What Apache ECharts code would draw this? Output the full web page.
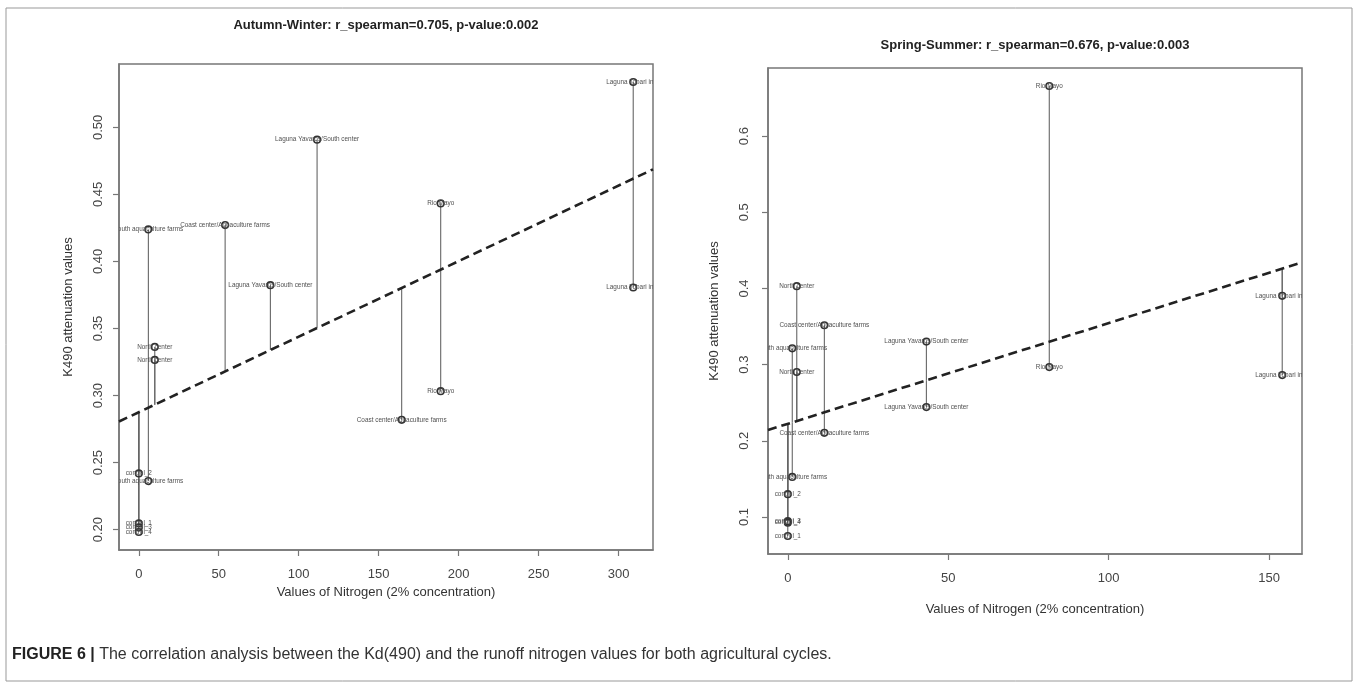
<!DOCTYPE html>
<html><head><meta charset="utf-8">
<script src="https://cdn.jsdelivr.net/npm/echarts@6/dist/echarts.min.js"></script>
<style>html,body{margin:0;padding:0;background:#fff}#c{width:1358px;height:687px}</style>
</head><body><div id="c"></div>
<script>
// ---------- Autumn-Winter ----------
const awNames = ['control_2','control_1','control_3','control_4',
  'South aquaculture farms','South aquaculture farms','North center','North center',
  'Coast center/Aquaculture farms','Coast center/Aquaculture farms',
  'Laguna Yavaros/South center','Laguna Yavaros/South center',
  'Rio Mayo','Rio Mayo','Laguna Tobari inlet','Laguna Tobari inlet'];
const awNitrogen = [0,0,0,0, 6,6, 10,10, 54,164.4, 82.3,111.5, 188.8,188.8, 309.2,309.2];
const awK490 = [0.242,0.2047,0.2017,0.1983, 0.4239,0.2363, 0.3363,0.3266, 0.4271,0.2819, 0.3823,0.4908, 0.4433,0.3033, 0.5338,0.3806];
const awXTicks = [0,50,100,150,200,250,300];
const awYTicks = [0.20,0.25,0.30,0.35,0.40,0.45,0.50];
const awTitle = 'Autumn-Winter: r_spearman=0.705, p-value:0.002';

// ---------- Spring-Summer ----------
const ssNames = ['North center','North center',
  'Coast center/Aquaculture farms','Coast center/Aquaculture farms',
  'South aquaculture farms','South aquaculture farms',
  'Laguna Yavaros/South center','Laguna Yavaros/South center',
  'control_2','control_3','control_4','control_1',
  'Rio Mayo','Rio Mayo','Laguna Tobari inlet','Laguna Tobari inlet'];
const ssNitrogen = [2.8,2.8, 11.4,11.4, 1.4,1.4, 43.2,43.2, 0,0,0,0, 81.5,81.5, 154.1,154.1];
const ssK490 = [0.403,0.2903, 0.3517,0.2105, 0.3214,0.1526, 0.3303,0.2442, 0.1299,0.0945,0.0925,0.075, 0.6658,0.2968, 0.3903,0.2863];
const ssXTicks = [0,50,100,150];
const ssYTicks = [0.1,0.2,0.3,0.4,0.5,0.6];
const ssTitle = 'Spring-Summer: r_spearman=0.676, p-value:0.003';

const xName = 'Values of Nitrogen (2% concentration)';
const yName = 'K490 attenuation values';
const captionBold = 'FIGURE 6 |';
const captionText = ' The correlation analysis between the Kd(490) and the runoff nitrogen values for both agricultural cycles.';

const FF = '"Liberation Sans", Arial, sans-serif';

function ols(xs, ys){
  const n = xs.length;
  const mx = xs.reduce((a,b)=>a+b,0)/n, my = ys.reduce((a,b)=>a+b,0)/n;
  let sxy=0, sxx=0;
  for(let i=0;i<n;i++){ sxy += (xs[i]-mx)*(ys[i]-my); sxx += (xs[i]-mx)*(xs[i]-mx); }
  const b = sxy/sxx; return {a: my - b*mx, b};
}
function rExtent(vals){
  const mn = Math.min(...vals), mx = Math.max(...vals), r = mx-mn;
  return [mn-0.04*r, mx+0.04*r];
}

function pointRender(names){
  return function(params, api){
    const p = api.coord([api.value(0), api.value(1)]);
    const cs = params.coordSys;
    return {type:'group',
      clipPath:{type:'rect', shape:{x:cs.x, y:cs.y, width:cs.width, height:cs.height}},
      children:[
        {type:'circle', shape:{cx:p[0], cy:p[1], r:3.3}, style:{fill:'none', stroke:'#333', lineWidth:1.6}},
        {type:'text', x:p[0], y:p[1], style:{text:names[params.dataIndex], fontSize:6.4, fontFamily:FF, fill:'#505050', align:'center', verticalAlign:'middle'}}
      ]};
  };
}
function residRender(params, api){
  const p1 = api.coord([api.value(0), api.value(1)]);
  const p2 = api.coord([api.value(0), api.value(2)]);
  return {type:'line', shape:{x1:p1[0], y1:p1[1], x2:p2[0], y2:p2[1]}, style:{stroke:'#666', lineWidth:1.1}};
}

function panel(idx, xs, ys, names, xTicks, yTicks, yDec, o){
  const fit = ols(xs, ys);
  const xe = rExtent(xs), ye = rExtent(ys);
  const resid = xs.map((x,i)=>[x, ys[i], fit.a + fit.b*x]);
  const pts = xs.map((x,i)=>[x, ys[i]]);
  const reg = [[xe[0], fit.a+fit.b*xe[0]], [xe[1], fit.a+fit.b*xe[1]]];
  const axisLineStyle = {color:'#777', width:1.5};
  return {
    grid: {left:o.left, top:o.top, width:534, height:486, show:true, borderColor:'#777', borderWidth:1.5, backgroundColor:'transparent'},
    xAxis: {type:'value', gridIndex:idx, min:xe[0], max:xe[1],
      name:xName, nameLocation:'middle', nameGap:o.xNameGap,
      nameTextStyle:{fontSize:13, color:'#333', fontFamily:FF},
      axisLine:{show:true, onZero:false, lineStyle:axisLineStyle},
      axisTick:{show:true, customValues:xTicks, length:6, lineStyle:{color:'#777', width:1.2}},
      axisLabel:{customValues:xTicks, margin:o.xMargin, fontSize:13, color:'#444', fontFamily:FF},
      splitLine:{show:false}},
    yAxis: {type:'value', gridIndex:idx, min:ye[0], max:ye[1],
      name:yName, nameLocation:'middle', nameGap:o.yNameGap, nameRotate:90,
      nameTextStyle:{fontSize:13, color:'#333', fontFamily:FF},
      axisLine:{show:true, onZero:false, lineStyle:axisLineStyle},
      axisTick:{show:true, customValues:yTicks, length:6, lineStyle:{color:'#777', width:1.2}},
      axisLabel:{customValues:yTicks, rotate:90, margin:o.yMargin, fontSize:13, color:'#444', fontFamily:FF,
        formatter: v => Number(v).toFixed(yDec)},
      splitLine:{show:false}},
    series: [
      {type:'custom', xAxisIndex:idx, yAxisIndex:idx, data:resid, encode:{x:0, y:[1,2]}, renderItem:residRender, silent:true, z:2},
      {type:'line', xAxisIndex:idx, yAxisIndex:idx, data:reg, showSymbol:false, symbol:'none', clip:true, silent:true,
        lineStyle:{color:'#222', width:2.6, type:[9,5]}, z:3},
      {type:'custom', xAxisIndex:idx, yAxisIndex:idx, data:pts, encode:{x:0, y:1}, renderItem:pointRender(names), silent:true, z:4}
    ]
  };
}

const P1 = panel(0, awNitrogen, awK490, awNames, awXTicks, awYTicks, 2,
  {left:119, top:64, xMargin:18, yMargin:14, xNameGap:33, yNameGap:44});
const P2 = panel(1, ssNitrogen, ssK490, ssNames, ssXTicks, ssYTicks, 1,
  {left:768, top:68, xMargin:18, yMargin:17, xNameGap:49, yNameGap:47});

const chart = echarts.init(document.getElementById('c'), null, {renderer:'canvas'});
chart.setOption({
  animation:false,
  backgroundColor:'#fff',
  grid:[P1.grid, P2.grid],
  xAxis:[P1.xAxis, P2.xAxis],
  yAxis:[P1.yAxis, P2.yAxis],
  series:[...P1.series, ...P2.series],
  graphic:[
    {type:'rect', shape:{x:6, y:8, width:1346, height:673}, style:{fill:'none', stroke:'#999', lineWidth:1}, silent:true},
    {type:'text', x:386, y:25, style:{text:awTitle, fontSize:13, fontWeight:'bold', fontFamily:FF, fill:'#222', align:'center', verticalAlign:'middle'}},
    {type:'text', x:1035, y:45, style:{text:ssTitle, fontSize:13, fontWeight:'bold', fontFamily:FF, fill:'#222', align:'center', verticalAlign:'middle'}},
    {type:'text', x:12, y:655, style:{text:'{b|'+captionBold+'}'+captionText, fontSize:16, fontFamily:FF, fill:'#333', verticalAlign:'middle',
      rich:{b:{fontSize:16, fontWeight:'bold', fontFamily:FF, fill:'#222'}}}}
  ]
});
</script>
</body></html>
